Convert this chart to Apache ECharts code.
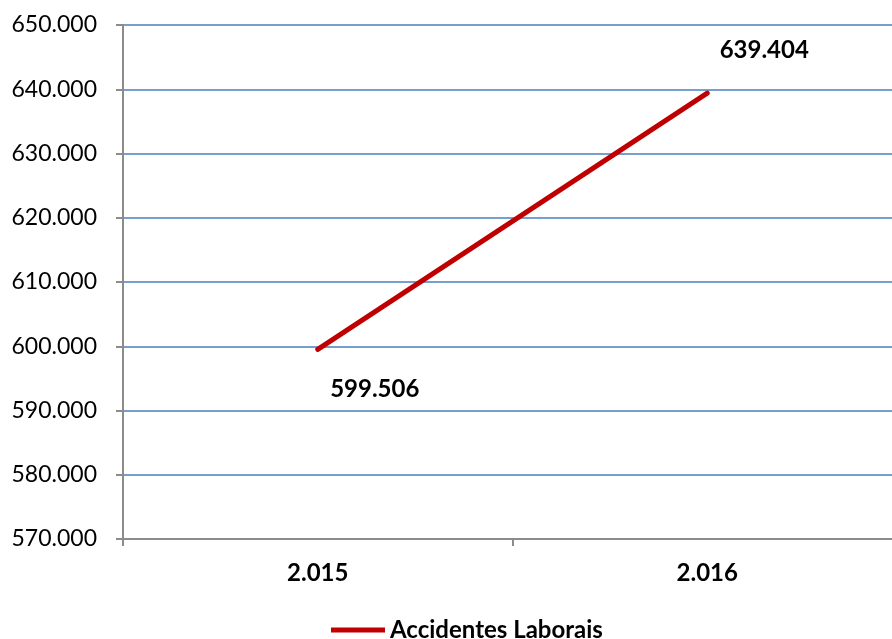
<!DOCTYPE html>
<html>
<head>
<meta charset="utf-8">
<script src="https://cdn.jsdelivr.net/npm/echarts@6/dist/echarts.min.js"></script>
<style>
  html, body { margin: 0; padding: 0; background: #fff; }
  #chart { width: 892px; height: 639px; }
</style>
</head>
<body>
<div id="chart"></div>
<script>
var years = ['2.015', '2.016'];
var accidentes = [599.506, 639.404];
var seriesName = 'Accidentes Laborais';

var font = 'Lato, "Open Sans", sans-serif';
var myChart = echarts.init(document.getElementById('chart'));

var option = {
  animation: false,
  textStyle: { fontFamily: font },
  grid: { left: 123, top: 25, right: -10, bottom: 100, containLabel: false, outerBoundsMode: 'none' },
  legend: {
    bottom: -8,
    left: 326,
    itemWidth: 54,
    itemHeight: 5,
    itemGap: 4,
    icon: 'rect',
    textStyle: { fontFamily: font, fontSize: 24, fontWeight: 'bold', color: '#000' },
    data: [seriesName]
  },
  xAxis: {
    type: 'category',
    data: years,
    boundaryGap: true,
    axisLine: { lineStyle: { color: '#8c8c8c', width: 2 } },
    axisTick: { show: true, length: 7, lineStyle: { color: '#8c8c8c', width: 2 } },
    axisLabel: { fontFamily: font, fontSize: 24, fontWeight: 'bold', color: '#000', margin: 22 }
  },
  yAxis: {
    type: 'value',
    min: 570,
    max: 650,
    interval: 10,
    axisLine: { show: true, lineStyle: { color: '#8c8c8c', width: 2 } },
    axisTick: { show: true, length: 7, lineStyle: { color: '#8c8c8c', width: 2 } },
    splitLine: { lineStyle: { color: '#4a7ebb', width: 1.5 } },
    axisLabel: {
      fontFamily: font, fontSize: 23, color: '#000', margin: 26,
      formatter: function (v) { return v.toFixed(3); }
    }
  },
  series: [
    {
      name: seriesName,
      type: 'line',
      data: accidentes,
      symbol: 'circle',
      symbolSize: 0.1,
      showSymbol: true,
      lineStyle: { color: '#c00000', width: 5, cap: 'round' },
      itemStyle: { color: '#c00000' },
      label: {
        show: true,
        fontFamily: font,
        fontSize: 24,
        fontWeight: 'bold',
        color: '#000',
        formatter: function (p) { return p.value.toFixed(3); },
        position: 'inside'
      },
      labelLayout: function (params) {
        var dy = params.dataIndex === 0 ? 40 : -43;
        return { dx: 57, dy: dy };
      }
    }
  ]
};
myChart.setOption(option);
</script>
</body>
</html>
